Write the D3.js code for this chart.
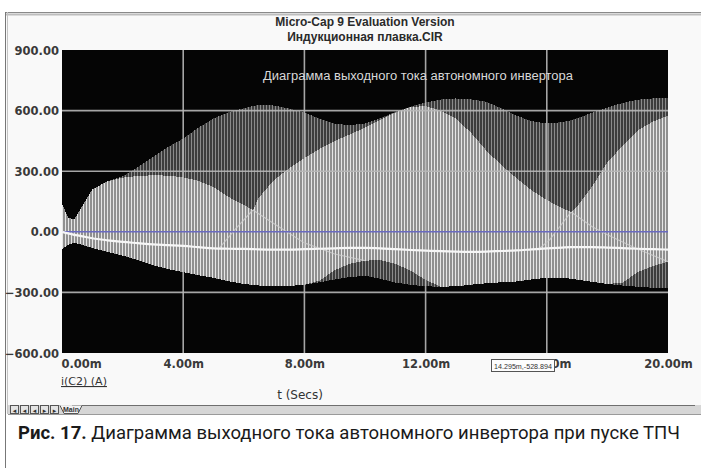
<!DOCTYPE html>
<html>
<head>
<meta charset="utf-8">
<script src="https://cdn.jsdelivr.net/npm/d3@7"></script>
<style>
  html, body { margin: 0; padding: 0; background: #ffffff; }
  svg { display: block; }
</style>
</head>
<body>
<svg id="chart" width="701" height="468"></svg>
<script>
// Inverter output current i(C2), amplitude envelopes of the waveform (A), time in ms
const timeMs = [0, 0.2, 0.4, 0.6, 1, 1.5, 2, 2.5, 3, 3.5, 4, 4.5, 5, 5.5, 6, 6.3, 6.5, 7, 7.5, 8,
  8.5, 9, 9.5, 10, 10.5, 11, 11.5, 12, 12.5, 13, 13.5, 14, 14.5, 15, 15.5, 16, 16.5, 16.8, 17, 17.5,
  18, 18.5, 19, 19.5, 20];

// Outer upper envelope
const outerTop = [140, 70, 60, 110, 210, 250, 275, 320, 370, 420, 462, 515, 561, 592, 612, 622, 628, 625, 610, 590,
  560, 535, 528, 536, 562, 594, 620, 640, 655, 660, 656, 644, 612, 575, 548, 536, 543, 552, 562, 590,
  615, 638, 654, 660, 660];

// Upper edge of the dense (overlapping) part
const innerTop = [140, 70, 60, 110, 210, 250, 268, 276, 280, 278, 270, 252, 222, 172, 133, 108, 170, 256, 315, 365,
  410, 450, 482, 516, 555, 590, 618, 622, 600, 561, 490, 403, 330, 266, 205, 157, 118, 98, 125, 225,
  344, 425, 502, 545, 575];

// Lower edge of the dense part
const innerBottom = [-85, -65, -55, -62, -80, -100, -118, -140, -165, -185, -200, -215, -228, -245, -258, -263, -266, -270, -268, -262,
  -242, -190, -158, -143, -140, -158, -192, -238, -272, -270, -262, -255, -250, -246, -236, -227, -228, -232, -237, -248,
  -258, -252, -200, -170, -148];

// Outer lower envelope
const outerBottom = [-85, -65, -55, -62, -80, -100, -118, -140, -165, -185, -200, -215, -228, -245, -258, -263, -266, -270, -268, -262,
  -250, -236, -224, -218, -232, -251, -263, -270, -272, -270, -262, -255, -250, -246, -236, -227, -228, -232, -237, -248,
  -258, -266, -272, -277, -280];

// Slowly varying mean component
const meanCurrent = [0, -8, -15, -20, -32, -42, -50, -56, -62, -66, -70, -76, -82, -84, -85, -86, -87, -88, -88, -86,
  -84, -82, -80, -80, -82, -86, -90, -93, -96, -98, -99, -98, -95, -92, -87, -82, -78, -76, -76, -76,
  -78, -81, -84, -86, -88];

// Crossing envelope branches inside the dense part
const crossings = [
  { t: [6.3, 7, 8, 9, 10], v: [108, 40, -55, -110, -143] },
  { t: [5.2, 5.7, 6.3], v: [-80, 10, 108] },
  { t: [16.8, 17.5, 18, 18.9, 20], v: [98, 25, -15, -79, -148] },
  { t: [15.7, 16.1, 16.8], v: [-90, -39, 98] }
];

const xTicks = [0, 4, 8, 12, 16, 20];
const yTicks = [900, 600, 300, 0, -300, -600];

const titleLines = ["Micro-Cap 9 Evaluation Version", "Индукционная плавка.CIR"];
const plotNote = "Диаграмма выходного тока автономного инвертора";
const yLabel = "i(C2) (A)";
const xLabel = "t (Secs)";
const cursorNote = "14.295m,-528.894";
const captionBold = "Рис. 17.";
const captionText = " Диаграмма выходного тока автономного инвертора при пуске ТПЧ";

const svg = d3.select("#chart");
const W = 701, H = 468;
const plot = { left: 62, right: 668, top: 50, bottom: 353 };

const x = d3.scaleLinear().domain([0, 20]).range([plot.left, plot.right]);
const y = d3.scaleLinear().domain([-600, 900]).range([plot.bottom, plot.top]);

// window background and frame
svg.append("rect").attr("width", W).attr("height", H).attr("fill", "#ffffff");
svg.append("rect").attr("x", 6).attr("y", 13).attr("width", W - 6).attr("height", 400).attr("fill", "#f9f9f9");
svg.append("line").attr("x1", 6).attr("x2", W).attr("y1", 12.5).attr("y2", 12.5).attr("stroke", "#8a8a8a").attr("stroke-width", 1);
svg.append("line").attr("x1", 6).attr("x2", W).attr("y1", 14.5).attr("y2", 14.5).attr("stroke", "#bdbdbd").attr("stroke-width", 2);
svg.append("line").attr("x1", 5.5).attr("x2", 5.5).attr("y1", 12).attr("y2", H).attr("stroke", "#777").attr("stroke-width", 1);
svg.append("line").attr("x1", 7.5).attr("x2", 7.5).attr("y1", 12).attr("y2", 414).attr("stroke", "#c4c4c4").attr("stroke-width", 1);

// stripe textures for the dense carrier waveform
const defs = svg.append("defs");
function stripes(id, bg, fg) {
  const p = defs.append("pattern").attr("id", id).attr("patternUnits", "userSpaceOnUse")
    .attr("x", plot.left).attr("y", 0).attr("width", 3).attr("height", 20);
  p.append("rect").attr("width", 3).attr("height", 20).attr("fill", bg);
  p.append("rect").attr("width", 1).attr("height", 20).attr("fill", fg);
}
stripes("darkStripes", "#3c3c3c", "#8a8a8a");
stripes("lightStripes", "#909090", "#e6e6e6");
defs.append("clipPath").attr("id", "plotClip").append("rect")
  .attr("x", plot.left).attr("y", plot.top).attr("width", plot.right - plot.left).attr("height", plot.bottom - plot.top);

// plot background
svg.append("rect").attr("x", plot.left).attr("y", plot.top)
  .attr("width", plot.right - plot.left).attr("height", plot.bottom - plot.top).attr("fill", "#050505");

const g = svg.append("g").attr("clip-path", "url(#plotClip)");

const idx = d3.range(timeMs.length);
function band(topArr, botArr) {
  return d3.area().x(i => x(timeMs[i])).y0(i => y(botArr[i])).y1(i => y(topArr[i]))(idx);
}
g.append("path").attr("d", band(outerTop, outerBottom)).attr("fill", "url(#darkStripes)").attr("shape-rendering", "crispEdges");
g.append("path").attr("d", band(innerTop, innerBottom)).attr("fill", "url(#lightStripes)").attr("shape-rendering", "crispEdges");

// crossing envelope branches
const crossLine = d3.line().x(d => x(d[0])).y(d => y(d[1]));
crossings.forEach(c => {
  g.append("path").attr("d", crossLine(c.t.map((t, i) => [t, c.v[i]])))
    .attr("fill", "none").attr("stroke", "#d0d0d0").attr("stroke-width", 1.2).attr("opacity", 0.75);
});

// grid
g.selectAll(".vgrid").data(xTicks.filter(d => d > 0 && d < 20)).join("line")
  .attr("x1", d => x(d)).attr("x2", d => x(d)).attr("y1", plot.top).attr("y2", plot.bottom)
  .attr("stroke", "#b8b8b8").attr("stroke-width", 1.6).attr("opacity", 0.9);
g.selectAll(".hgrid").data(yTicks.filter(d => d > -600 && d < 900 && d !== 0)).join("line")
  .attr("x1", plot.left).attr("x2", plot.right).attr("y1", d => y(d)).attr("y2", d => y(d))
  .attr("stroke", "#b8b8b8").attr("stroke-width", 1.6).attr("opacity", 0.9);

// zero line
g.append("line").attr("x1", plot.left).attr("x2", plot.right).attr("y1", y(0)).attr("y2", y(0))
  .attr("stroke", "#6a6ac0").attr("stroke-width", 1.5);

// mean component
g.append("path").attr("d", d3.line().x(i => x(timeMs[i])).y(i => y(meanCurrent[i])).curve(d3.curveMonotoneX)(idx))
  .attr("fill", "none").attr("stroke", "#f6f6f6").attr("stroke-width", 2.2);

// note inside plot
svg.append("text").attr("x", 263).attr("y", 80).attr("font-family", "Liberation Sans, Arial, sans-serif")
  .attr("font-size", 12).attr("fill", "#d8d8d8").attr("textLength", 310).attr("lengthAdjust", "spacingAndGlyphs")
  .text(plotNote);

// titles
titleLines.forEach((s, i) => {
  svg.append("text").attr("x", (plot.left + plot.right) / 2).attr("y", 26 + i * 15)
    .attr("text-anchor", "middle").attr("font-family", "Liberation Sans, Arial, sans-serif")
    .attr("font-size", 12).attr("font-weight", "bold").attr("fill", "#2a2a2a").text(s);
});

// axes
const fontAxis = "DejaVu Sans, Verdana, sans-serif";
const yAxis = svg.append("g").attr("transform", `translate(${plot.left},0)`)
  .call(d3.axisLeft(y).tickValues(yTicks).tickFormat(d3.format(".2f")).tickSize(0).tickPadding(3));
yAxis.select(".domain").remove();
yAxis.selectAll("text").attr("font-family", fontAxis).attr("font-size", 11.5).attr("font-weight", "bold")
  .attr("fill", "#3a3a3a").attr("dy", "0.36em");

const xAxis = svg.append("g").attr("transform", `translate(0,${plot.bottom})`)
  .call(d3.axisBottom(x).tickValues(xTicks).tickFormat(d => d3.format(".2f")(d) + "m").tickSize(0).tickPadding(7));
xAxis.select(".domain").remove();
xAxis.selectAll("text").attr("font-family", fontAxis).attr("font-size", 11.5).attr("font-weight", "bold").attr("fill", "#3a3a3a");
xAxis.selectAll(".tick").filter(d => d === 0).select("text").attr("text-anchor", "start").attr("x", -1);

// cursor readout box
const cb = svg.append("g").attr("transform", "translate(491,359)");
cb.append("rect").attr("x", 0.5).attr("y", 0.5).attr("width", 63).attr("height", 12).attr("fill", "#fdfdfd")
  .attr("stroke", "#555").attr("stroke-width", 1);
cb.append("text").attr("x", 32).attr("y", 9.5).attr("text-anchor", "middle").attr("font-family", "Liberation Sans, Arial, sans-serif")
  .attr("font-size", 7).attr("fill", "#333").attr("textLength", 58).attr("lengthAdjust", "spacingAndGlyphs").text(cursorNote);

// axis titles
svg.append("text").attr("x", 61).attr("y", 385).attr("font-family", fontAxis).attr("font-size", 11)
  .attr("fill", "#333").attr("text-decoration", "underline").text(yLabel);
svg.append("text").attr("x", 300).attr("y", 399).attr("text-anchor", "middle").attr("font-family", fontAxis)
  .attr("font-size", 12).attr("fill", "#333").text(xLabel);

// page tab bar
svg.append("rect").attr("x", 8).attr("y", 405).attr("width", W - 8).attr("height", 9).attr("fill", "#d6d6d6");
svg.append("line").attr("x1", 72).attr("x2", W - 6).attr("y1", 405.5).attr("y2", 405.5).attr("stroke", "#6f6f6f");
svg.append("line").attr("x1", 8).attr("x2", W).attr("y1", 414.5).attr("y2", 414.5).attr("stroke", "#9a9a9a");
const btnGlyphs = ["◂", "◂", "◂", "▸", "▸"];
btnGlyphs.forEach((s, i) => {
  svg.append("rect").attr("x", 10.5 + i * 10).attr("y", 405.5).attr("width", 8).attr("height", 8)
    .attr("fill", "#e4e4e4").attr("stroke", "#555");
  svg.append("text").attr("x", 14.5 + i * 10).attr("y", 412.5).attr("text-anchor", "middle")
    .attr("font-family", "DejaVu Sans, sans-serif").attr("font-size", 7).attr("fill", "#333").text(s);
});
svg.append("path").attr("d", "M60,405.5 L64,413.5 L78,413.5 L82,405.5").attr("fill", "#f2f2f2").attr("stroke", "#555");
svg.append("text").attr("x", 71).attr("y", 412).attr("text-anchor", "middle").attr("font-family", "Liberation Sans, Arial, sans-serif")
  .attr("font-size", 7).attr("font-weight", "bold").attr("fill", "#333").text("Main");

// caption
const cap = svg.append("text").attr("x", 18).attr("y", 439).attr("font-family", "Roboto, Liberation Sans, sans-serif")
  .attr("font-size", 18).attr("fill", "#1a1a1a").attr("textLength", 662).attr("lengthAdjust", "spacingAndGlyphs");
cap.append("tspan").attr("font-weight", "bold").text(captionBold);
cap.append("tspan").text(captionText);
</script>
</body>
</html>
